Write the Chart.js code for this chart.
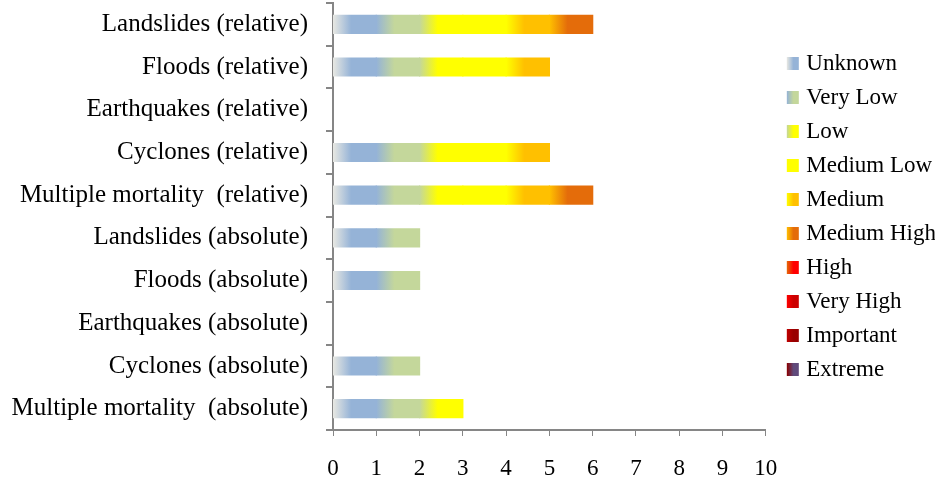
<!DOCTYPE html>
<html>
<head>
<meta charset="utf-8">
<script src="https://cdn.jsdelivr.net/npm/chart.js@4"></script>
<style>
  html, body { margin: 0; padding: 0; background: #fff; }
  #wrap { width: 935px; height: 481px; }
</style>
</head>
<body>
<div id="wrap"><canvas id="grafico"></canvas></div>
<script>
// categorias (de cima para baixo)
const categorias = [
  "Landslides (relative)",
  "Floods (relative)",
  "Earthquakes (relative)",
  "Cyclones (relative)",
  "Multiple mortality  (relative)",
  "Landslides (absolute)",
  "Floods (absolute)",
  "Earthquakes (absolute)",
  "Cyclones (absolute)",
  "Multiple mortality  (absolute)"
];

const niveis = ["Unknown", "Very Low", "Low", "Medium Low", "Medium",
  "Medium High", "High", "Very High", "Important", "Extreme"];

const unknown    = [1, 1, 0, 1, 1, 1, 1, 0, 1, 1];
const veryLow    = [1, 1, 0, 1, 1, 1, 1, 0, 1, 1];
const low        = [1, 1, 0, 1, 1, 0, 0, 0, 0, 1];
const mediumLow  = [1, 1, 0, 1, 1, 0, 0, 0, 0, 0];
const medium     = [1, 1, 0, 1, 1, 0, 0, 0, 0, 0];
const mediumHigh = [1, 0, 0, 0, 1, 0, 0, 0, 0, 0];
const high       = [0, 0, 0, 0, 0, 0, 0, 0, 0, 0];
const veryHigh   = [0, 0, 0, 0, 0, 0, 0, 0, 0, 0];
const important  = [0, 0, 0, 0, 0, 0, 0, 0, 0, 0];
const extreme    = [0, 0, 0, 0, 0, 0, 0, 0, 0, 0];

const xTicks = [0, 1, 2, 3, 4, 5, 6, 7, 8, 9, 10];

const series = [unknown, veryLow, low, mediumLow, medium, mediumHigh, high, veryHigh, important, extreme];

// cor inicial -> cor final de cada faixa
const corInicio = ["#e8e8e2", "#95b3d7", "#c4d79b", "#ffff00", "#ffff00", "#ffc000", "#e46c0a", "#ff0000", "#c00000", "#8b0000"];
const corFim    = ["#95b3d7", "#c4d79b", "#ffff00", "#ffff00", "#ffc000", "#e46c0a", "#ff0000", "#cc0000", "#990000", "#604a7b"];

const fonte = "'Liberation Serif', 'Times New Roman', serif";

function gradiente(c) {
  const chart = c.chart;
  const ds = c.datasetIndex;
  const xs = chart.scales && chart.scales.x;
  if (!xs || !chart.chartArea || c.dataIndex === undefined) return corFim[ds];
  let inicio = 0;
  for (let k = 0; k < ds; k++) inicio += series[k][c.dataIndex];
  const fim = inicio + series[ds][c.dataIndex];
  const x0 = xs.getPixelForValue(inicio);
  const x1 = xs.getPixelForValue(fim);
  if (!(x1 > x0)) return corFim[ds];
  const g = chart.ctx.createLinearGradient(x0, 0, x1, 0);
  g.addColorStop(0, corInicio[ds]);
  g.addColorStop(0.42, corFim[ds]);
  g.addColorStop(1, corFim[ds]);
  return g;
}

// caixinha da legenda (28 px de largura, quadrado visivel a direita)
function caixaLegenda(i) {
  const cv = document.createElement("canvas");
  cv.width = 28; cv.height = 13;
  const cx = cv.getContext("2d");
  const g = cx.createLinearGradient(15, 0, 27, 0);
  g.addColorStop(0, corInicio[i]);
  g.addColorStop(0.55, corFim[i]);
  g.addColorStop(1, corFim[i]);
  cx.fillStyle = g;
  cx.fillRect(15, 0, 12, 13);
  return cv;
}

const caixas = niveis.map((n, i) => caixaLegenda(i));

// zeros viram null para nao desenhar barras vazias
const datasets = niveis.map((n, i) => ({
  label: n,
  data: series[i].map(v => (v === 0 ? null : v)),
  backgroundColor: gradiente,
  borderWidth: 0,
  inflateAmount: 0.6,
  barPercentage: 0.42,
  categoryPercentage: 1
}));

const ctx = document.getElementById("grafico");

new Chart(ctx, {
  type: "bar",
  data: { labels: categorias, datasets: datasets },
  options: {
    indexAxis: "y",
    responsive: true,
    maintainAspectRatio: false,
    animation: false,
    layout: { padding: { top: 3, right: -11, left: 0, bottom: 0 } },
    plugins: {
      tooltip: { enabled: false },
      legend: {
        position: "right",
        fullSize: false,
        labels: {
          usePointStyle: true,
          boxWidth: 18,
          boxHeight: 13,
          padding: 11,
          color: "#000",
          font: { family: fonte, size: 23 },
          generateLabels: (chart) => niveis.map((n, i) => ({
            text: n,
            pointStyle: caixas[i],
            datasetIndex: i,
            hidden: false,
            lineWidth: 0
          }))
        }
      }
    },
    scales: {
      x: {
        stacked: true,
        min: 0,
        max: 10,
        afterBuildTicks: (s) => { s.ticks = xTicks.map(v => ({ value: v })); },
        afterFit: (s) => { s.height = 51; },
        ticks: { color: "#000", font: { family: fonte, size: 23 }, padding: 19, maxRotation: 0 },
        grid: { drawOnChartArea: false, drawTicks: true, tickLength: 6, color: "#868686", lineWidth: 1 },
        border: { color: "#868686", width: 2 }
      },
      y: {
        stacked: true,
        afterFit: (s) => { s.width = 333; s.paddingTop = 0; s.paddingBottom = 0; },
        ticks: { color: "#000", font: { family: fonte, size: 25 }, padding: 18 },
        grid: { offset: true, drawOnChartArea: false, drawTicks: true, tickLength: 7, color: "#868686", lineWidth: 2 },
        border: { color: "#868686", width: 2 }
      }
    }
  }
});
</script>
</body>
</html>
